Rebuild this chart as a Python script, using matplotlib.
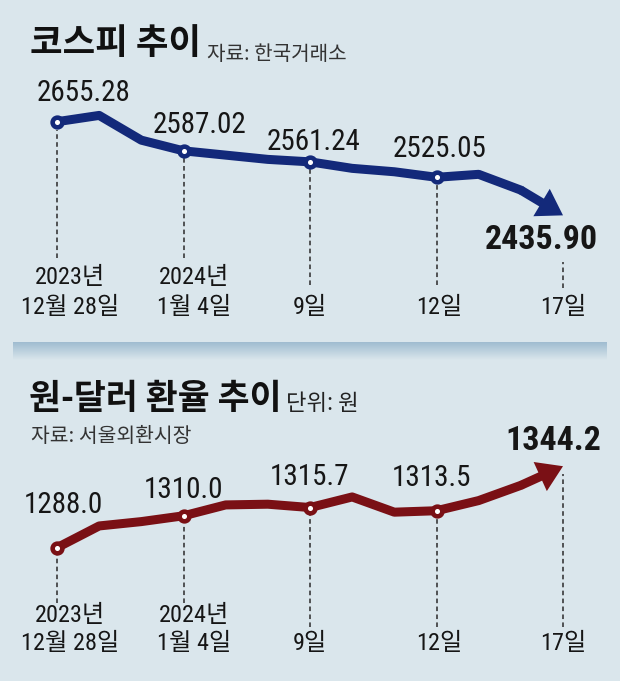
import matplotlib
matplotlib.use('Agg')
import matplotlib.pyplot as plt
import numpy as np
from matplotlib.transforms import blended_transform_factory
from matplotlib.colors import LinearSegmentedColormap

# ---------------- data ----------------
dates = ['12/28', '1/2', '1/3', '1/4', '1/5', '1/8', '1/9',
         '1/10', '1/11', '1/12', '1/15', '1/16', '1/17']
kospi = [2655.28, 2670.0, 2612.0, 2587.02, 2577.0, 2567.0, 2561.24,
         2546.0, 2538.0, 2525.05, 2532.0, 2495.0, 2435.90]
usdkrw = [1288.0, 1303.0, 1306.0, 1310.0, 1317.5, 1318.0, 1315.7,
          1323.0, 1312.5, 1313.5, 1320.5, 1331.0, 1344.2]
marked = [0, 3, 6, 9, 12]
kospi_labels = ['2655.28', '2587.02', '2561.24', '2525.05', '2435.90']
fx_labels = ['1288.0', '1310.0', '1315.7', '1313.5', '1344.2']
tick_year = ['2023년', '2024년', '', '', '']
tick_day = ['12월 28일', '1월 4일', '9일', '12일', '17일']

# ---------------- style ----------------
W, H = 620, 681
BG = '#dae6ec'
NAVY = '#13297a'
RED = '#7a1015'
TXT = '#161616'
NUM = ['Roboto Condensed', 'Noto Sans CJK KR', 'DejaVu Sans']
KR = ['Noto Sans CJK KR', 'DejaVu Sans']
plt.rcParams['font.family'] = KR

fig = plt.figure(figsize=(W / 100, H / 100), dpi=100, facecolor=BG)

X0, XN = 57, 563
STEP = (XN - X0) / (len(dates) - 1)
idx = np.arange(len(dates))


def make_axes(top_px, h_px, ylim):
    ax = fig.add_axes([0, 1 - (top_px + h_px) / H, 1, h_px / H])
    ax.set_xlim(-X0 / STEP, (W - X0) / STEP)
    ax.set_ylim(*ylim)
    ax.axis('off')
    ax.patch.set_alpha(0)
    return ax


def draw_panel(ax, top_px, h_px, vals, color, labels, lab_off, big_off,
               dash_px, year_y, day_y):
    frac = lambda py: 1 - (py - top_px) / h_px
    v = np.array(vals)
    # main line (all but last segment) and arrow for the last segment
    ax.plot(idx[:-1], v[:-1], color=color, lw=6.5, solid_joinstyle='round',
            solid_capstyle='round', zorder=3)
    ax.annotate('', xy=(idx[-1], v[-1]), xytext=(idx[-2], v[-2]),
                arrowprops=dict(width=6.5, headwidth=23, headlength=18,
                                facecolor=color, edgecolor=color, lw=0,
                                shrink=0), zorder=3)
    # circle markers
    m = marked[:-1]
    ax.plot(idx[m], v[m], 'o', ms=7, mfc='white', mec=color, mew=3.3,
            zorder=4)
    # dashed guides
    for i, (p0, p1) in zip(marked, dash_px):
        ax.axvline(i, ymin=frac(p1), ymax=frac(p0), color='#2a2a2a', lw=1.1,
                   ls=(0, (3.0, 2.2)), zorder=1)
    # value labels
    for k, (i, lab) in enumerate(zip(marked, labels)):
        last = (k == len(marked) - 1)
        dx, dy = big_off if last else lab_off[k]
        ax.annotate(lab, xy=(i, v[i]), xytext=(dx * 0.72, -dy * 0.72),
                    textcoords='offset points', ha='center', va='center',
                    fontsize=24.5 if last else 21,
                    fontweight='bold' if last else 'normal',
                    family=NUM, color=TXT, zorder=5)
    # date labels
    tr = blended_transform_factory(ax.transData, ax.transAxes)
    shifts = [13, 11, 0, 3, 0]
    for i, yr, dy_, sh in zip(marked, tick_year, tick_day, shifts):
        xx = i + sh / STEP
        if yr:
            ax.text(xx, frac(year_y), yr, transform=tr, ha='center',
                    va='center', fontsize=17.5, family=NUM, color=TXT)
        ax.text(xx, frac(day_y), dy_, transform=tr, ha='center',
                va='center', fontsize=17.5, family=NUM, color=TXT)


# ---- top panel: KOSPI ----
k_scale = 0.4269  # px per point
top_ylim = (2655.28 - (340 - 121.7) / k_scale, 2655.28 + 121.7 / k_scale)
ax1 = make_axes(0, 340, top_ylim)
draw_panel(ax1, 0, 340, kospi, NAVY, kospi_labels,
           lab_off=[(27, -29), (15.5, -26), (4, -20), (3, -28)],
           big_off=(-22, 25),
           dash_px=[(130, 258), (158, 258), (168, 285), (184, 285), (262, 288)],
           year_y=277.5, day_y=307.5)

# ---- bottom panel: USD/KRW ----
f_scale = 1.45
bot_ylim = (1288.0 - (681 - 547.7) / f_scale, 1288.0 + (547.7 - 340) / f_scale)
ax2 = make_axes(340, 341, bot_ylim)
draw_panel(ax2, 340, 341, usdkrw, RED, fx_labels,
           lab_off=[(6, -43), (0, -26), (0, -30.5), (-5, -33)],
           big_off=(-10, -25),
           dash_px=[(554, 603), (524, 603), (515, 627), (518, 627), (474, 627)],
           year_y=615, day_y=644)

# ---- titles ----
def ftxt(px, py, s, **kw):
    fig.text(px / W, 1 - py / H, s, **kw)

ftxt(30, 43.5, '코스피 추이', fontsize=25.5, fontweight='bold', color='#111',
     family=KR, va='center', ha='left')
ftxt(207, 55, '자료: 한국거래소', fontsize=14.5, color='#333', family=KR,
     va='center', ha='left')
ftxt(29, 398, '원-달러 환율 추이', fontsize=25, fontweight='bold',
     color='#111', family=KR, va='center', ha='left')
ftxt(286, 403, '단위: 원', fontsize=16, color='#222', family=KR,
     va='center', ha='left')
ftxt(31, 437, '자료: 서울외환시장', fontsize=14.7, color='#333', family=KR,
     va='center', ha='left')

# ---- divider band ----
bax = fig.add_axes([13 / W, 1 - 360 / H, 594 / W, 18 / H])
cmap = LinearSegmentedColormap.from_list('band', ['#9fbcd0', '#bcd1de', BG])
grad = np.linspace(0, 1, 64).reshape(-1, 1)
bax.imshow(grad, aspect='auto', cmap=cmap, extent=(0, 1, 0, 1),
           origin='upper')
bax.axis('off')

fig.savefig('out.png', dpi=100, facecolor=BG)
